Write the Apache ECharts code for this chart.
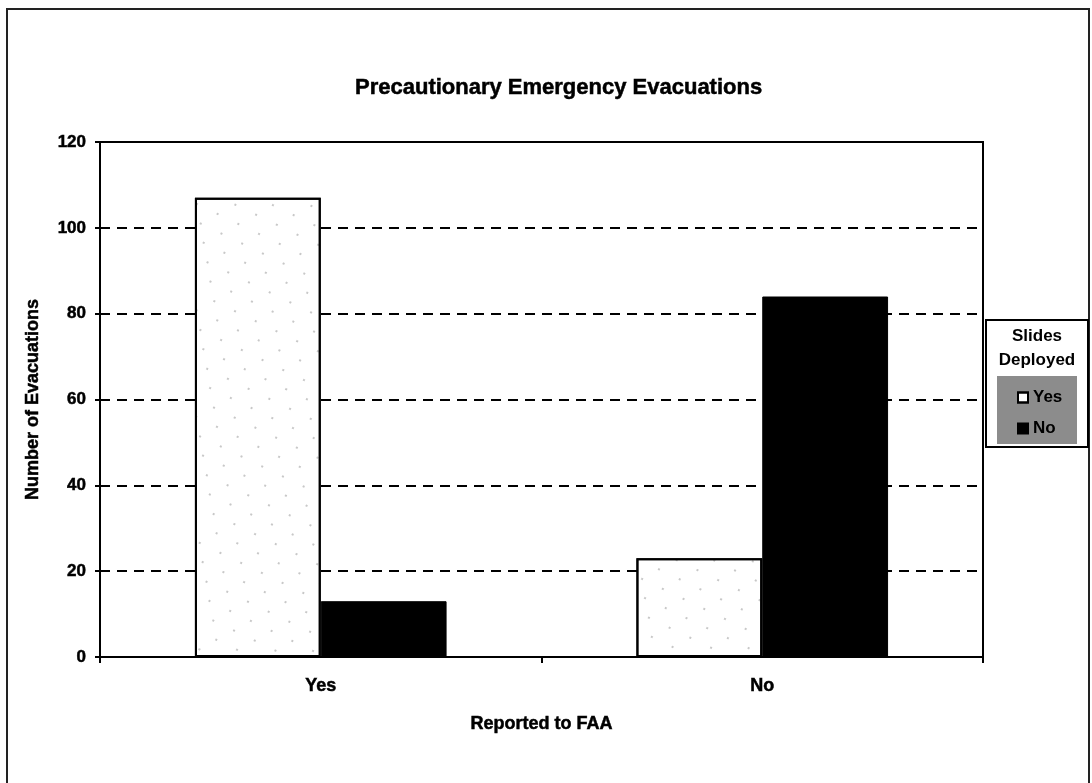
<!DOCTYPE html>
<html>
<head>
<meta charset="utf-8">
<title>Precautionary Emergency Evacuations</title>
<script src="https://cdn.jsdelivr.net/npm/echarts@6/dist/echarts.min.js"></script>
<style>
    html, body { margin: 0; padding: 0; background: #fff; }
    #main { width: 1092px; height: 783px; }
</style>
</head>
<body>
<div id="main"></div>
<script>
    // data
    var categories = ['Yes', 'No'];              // Reported to FAA
    var slidesYes = [107, 23];
    var slidesNo = [13, 84];
    var legendNames = ['Yes', 'No'];             // Slides Deployed

    var font = '"Liberation Sans", Arial, sans-serif';
    // scanned print looks heavier than plain bold, thicken a bit
    var heavy = { fontFamily: font, fontWeight: 'bold', color: '#000', textBorderColor: '#000', textBorderWidth: 0.5 };
    var chart = echarts.init(document.getElementById('main'));

    var option = {
        backgroundColor: '#fff',
        animation: false,
        title: {
            text: 'Precautionary Emergency Evacuations',
            left: 350,
            top: 72,
            textStyle: Object.assign({ fontSize: 22 }, heavy)
        },
        grid: {
            left: 100, right: 109, top: 142, bottom: 126,
            show: true, borderColor: '#000', borderWidth: 2, backgroundColor: 'transparent'
        },
        legend: {
            data: legendNames,
            orient: 'vertical',
            icon: 'rect',
            left: 1012,
            top: 384,
            itemWidth: 10,
            itemHeight: 10,
            itemGap: 14,
            textStyle: { fontFamily: font, fontSize: 17, fontWeight: 'bold', color: '#000' }
        },
        xAxis: {
            type: 'category',
            data: categories,
            name: 'Reported to FAA',
            nameLocation: 'middle',
            nameGap: 58,
            nameTextStyle: Object.assign({ fontSize: 18 }, heavy),
            axisLine: { lineStyle: { color: '#000', width: 2 } },
            axisTick: { show: true, length: 6, lineStyle: { color: '#000', width: 2 } },
            axisLabel: Object.assign({ margin: 20, fontSize: 18 }, heavy)
        },
        yAxis: {
            type: 'value',
            min: 0, max: 120, interval: 20,
            name: 'Number of Evacuations',
            nameLocation: 'middle',
            nameGap: 58,
            nameTextStyle: Object.assign({ fontSize: 18 }, heavy),
            axisLine: { show: true, lineStyle: { color: '#000', width: 2 } },
            axisTick: { show: true, length: 5, lineStyle: { color: '#000', width: 2 } },
            axisLabel: Object.assign({ margin: 14, fontSize: 17 }, heavy),
            splitLine: { lineStyle: { color: '#000', width: 2, type: [10, 7] } }
        },
        series: [
            {
                name: 'Yes',
                type: 'bar',
                data: slidesYes,
                barGap: '0%',
                barCategoryGap: '43%',
                itemStyle: {
                    color: '#fff',
                    borderColor: '#000',
                    borderWidth: 2,
                    decal: {
                        symbol: 'circle',
                        symbolSize: 0.35,
                        color: 'rgba(0,0,0,0.6)',
                        dashArrayX: [[4, 19], [0, 11, 4, 8]],
                        dashArrayY: [4, 12],
                        rotation: 0.45
                    }
                }
            },
            {
                name: 'No',
                type: 'bar',
                data: slidesNo,
                itemStyle: { color: '#000', borderColor: '#000', borderWidth: 1 }
            }
        ],
        graphic: [
            // outer frame of the scanned figure
            { type: 'rect', shape: { x: 7, y: 9, width: 1082, height: 800 },
              style: { fill: 'none', stroke: '#222', lineWidth: 2 } },
            // legend box
            { type: 'rect', shape: { x: 986, y: 320, width: 102, height: 127 },
              style: { fill: '#fff', stroke: '#000', lineWidth: 2 } },
            { type: 'rect', shape: { x: 997, y: 376, width: 80, height: 68 },
              style: { fill: '#8c8c8c' } },
            { type: 'text', x: 1037, y: 336,
              style: { text: 'Slides', fontFamily: font, fontSize: 17, fontWeight: 'bold',
                       fill: '#000', align: 'center', verticalAlign: 'middle' } },
            { type: 'text', x: 1037, y: 360,
              style: { text: 'Deployed', fontFamily: font, fontSize: 17, fontWeight: 'bold',
                       fill: '#000', align: 'center', verticalAlign: 'middle' } }
        ]
    };

    chart.setOption(option);
</script>
</body>
</html>
